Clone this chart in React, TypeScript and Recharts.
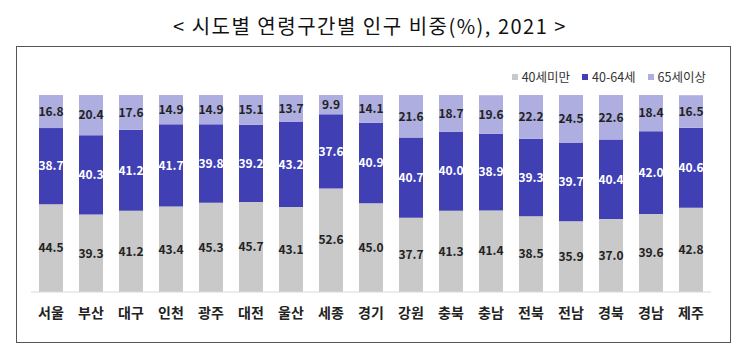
import React from "react";
import { BarChart, Bar, XAxis, YAxis, LabelList } from "recharts";

const categories = ["서울", "부산", "대구", "인천", "광주", "대전", "울산", "세종", "경기", "강원", "충북", "충남", "전북", "전남", "경북", "경남", "제주"];
const under40 = [44.5, 39.3, 41.2, 43.4, 45.3, 45.7, 43.1, 52.6, 45.0, 37.7, 41.3, 41.4, 38.5, 35.9, 37.0, 39.6, 42.8];
const age40to64 = [38.7, 40.3, 41.2, 41.7, 39.8, 39.2, 43.2, 37.6, 40.9, 40.7, 40.0, 38.9, 39.3, 39.7, 40.4, 42.0, 40.6];
const over65 = [16.8, 20.4, 17.6, 14.9, 14.9, 15.1, 13.7, 9.9, 14.1, 21.6, 18.7, 19.6, 22.2, 24.5, 22.6, 18.4, 16.5];
const seriesNames = ["40세미만", "40-64세", "65세이상"];
const colors = ["#c9c9c9", "#4040b4", "#aeaee0"];
const labelColors = ["#222222", "#ffffff", "#222222"];

const data = categories.map((c, i) => ({
  name: c,
  a: under40[i],
  b: age40to64[i],
  c: over65[i],
}));

const FONT = "'Noto Sans CJK KR', 'Noto Sans', sans-serif";

const fmt = (v: any) => Number(v).toFixed(1);

export default function App() {
  return (
    <div style={{ position: "absolute", left: 0, top: 0, width: 740, height: 355, background: "#fff", fontFamily: FONT }}>
      <div
        style={{
          position: "absolute",
          top: 11,
          left: 0,
          width: 740,
          textAlign: "center",
          fontSize: 20,
          letterSpacing: 1.5,
          color: "#111",
        }}
      >
        {"< 시도별 연령구간별 인구 비중(%), 2021 >"}
      </div>
      <div
        style={{
          position: "absolute",
          left: 16,
          top: 46,
          width: 713,
          height: 295,
          border: "1px solid #555",
        }}
      />
      <div
        style={{
          position: "absolute",
          top: 68,
          left: 460,
          width: 246,
          display: "flex",
          justifyContent: "flex-end",
          fontSize: 12.5,
          color: "#333",
          lineHeight: "18px",
          whiteSpace: "nowrap",
        }}
      >
        {seriesNames.map((n, i) => (
          <div key={n} style={{ display: "flex", alignItems: "center", marginLeft: 12 }}>
            <span style={{ display: "inline-block", width: 6, height: 6, background: colors[i], marginRight: 4 }} />
            <span>{n}</span>
          </div>
        ))}
      </div>
      <div style={{ position: "absolute", left: 0, top: 0 }}>
        <BarChart
          width={740}
          height={355}
          data={data}
          margin={{ top: 95, right: 29, bottom: 33, left: 31 }}
          barCategoryGap="20%"
        >
          <YAxis hide domain={[0, 100]} allowDataOverflow />
          <XAxis
            dataKey="name"
            axisLine={{ stroke: "#d9d9d9" }}
            tickLine={false}
            tickMargin={10}
            interval={0}
            tick={{ fontSize: 14, fill: "#222", fontWeight: 600, fontFamily: FONT }}
          />
          {["a", "b", "c"].map((k, i) => (
            <Bar key={k} dataKey={k} stackId="s" name={seriesNames[i]} fill={colors[i]} isAnimationActive={false}>
              <LabelList
                dataKey={k}
                position="center"
                formatter={fmt}
                style={{ fontSize: 12, fontWeight: 700, fill: labelColors[i], fontFamily: FONT }}
              />
            </Bar>
          ))}
        </BarChart>
      </div>
    </div>
  );
}
